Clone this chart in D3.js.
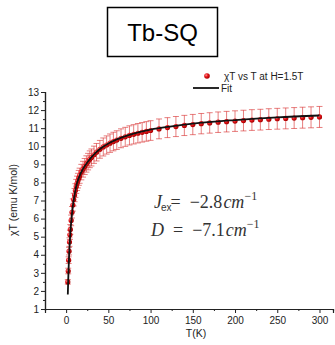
<!DOCTYPE html>
<html><head><meta charset="utf-8">
<script src="https://cdn.jsdelivr.net/npm/d3@7"></script>
<style>body{margin:0;background:#fff}svg{display:block}</style>
</head><body>
<script>
const temps = [2,2.5,3,3.5,4,4.5,5,6,7,8,9,10,11,12,13,14,15,16,18,20,22,24,26,28,30,33,36,40,44,48,52,56,60,65,70,75,80,85,90,95,100,110,120,130,140,150,160,170,180,190,200,210,220,230,240,250,260,270,280,290,300];
const chiT = [2.5,3.1,3.7,4.2,4.7,5.1,5.4,5.9,6.35,6.75,7.05,7.3,7.55,7.78,7.95,8.1,8.25,8.37,8.57,8.73,8.88,9.02,9.15,9.28,9.38,9.53,9.67,9.83,9.96,10.07,10.17,10.26,10.34,10.44,10.52,10.6,10.66,10.72,10.77,10.82,10.87,10.96,11.03,11.09,11.15,11.2,11.25,11.29,11.33,11.36,11.39,11.42,11.45,11.47,11.5,11.52,11.54,11.56,11.58,11.6,11.62];
const fitT = [2,2.5,3,3.5,4,5,6,7,8,10,12,15,20,25,30,40,50,60,80,100,125,150,200,250,300];
const fitChiT = [1.8,2.6,3.3,3.9,4.4,5.2,5.8,6.3,6.7,7.3,7.8,8.25,8.75,9.1,9.4,9.85,10.15,10.38,10.7,10.92,11.1,11.25,11.45,11.6,11.7];
const xTicks = [0,50,100,150,200,250,300];
const yTicks = [1,2,3,4,5,6,7,8,9,10,11,12,13];

const W=335,H=345;
const svg=d3.select("body").append("svg").attr("width",W).attr("height",H);
const defs=svg.append("defs");
const grad=defs.append("radialGradient").attr("id","dotg").attr("cx","35%").attr("cy","35%").attr("r","65%");
grad.append("stop").attr("offset","0%").attr("stop-color","#ff9a9a");
grad.append("stop").attr("offset","45%").attr("stop-color","#e8141a");
grad.append("stop").attr("offset","100%").attr("stop-color","#a80000");

const x=d3.scaleLinear().domain([-25,316]).range([45,333]);
const y=d3.scaleLinear().domain([1,13]).range([309,92]);

// title box
svg.append("rect").attr("x",107.5).attr("y",7.5).attr("width",110).attr("height",49).attr("fill","none").attr("stroke","#000").attr("stroke-width",1.5);
svg.append("text").attr("x",162.5).attr("y",41).attr("text-anchor","middle").attr("font-family","Liberation Sans, Arial, sans-serif").attr("font-size",24).text("Tb-SQ");

// axes
const fam="Liberation Sans, Arial, sans-serif";
svg.append("g").attr("transform","translate(0,309)")
  .call(d3.axisBottom(x).tickValues(xTicks).tickSize(4).tickPadding(4).tickFormat(d3.format("d")));
svg.append("g").attr("transform","translate(0,309)")
  .call(d3.axisBottom(x).tickValues([-25,25,75,125,175,225,275]).tickSize(2).tickFormat(""));
svg.append("g").attr("transform","translate(45,0)")
  .call(d3.axisLeft(y).tickValues(yTicks).tickSize(4).tickPadding(2).tickFormat(d3.format("d")));
svg.append("g").attr("transform","translate(45,0)")
  .call(d3.axisLeft(y).tickValues(d3.range(1.5,13,1)).tickSize(2).tickFormat(""));
svg.selectAll(".domain").attr("stroke","#222").attr("stroke-width",1.2);
svg.selectAll(".tick line").attr("stroke","#222");
svg.selectAll(".tick text").attr("font-family",fam).attr("font-size",10).attr("fill","#222");

// axis labels
svg.append("text").attr("transform","translate(17,200) rotate(-90)").attr("text-anchor","middle")
  .attr("font-family",fam).attr("font-size",10.5).attr("fill","#222").text("χT (emu K/mol)");
svg.append("text").attr("x",196).attr("y",337).attr("text-anchor","middle")
  .attr("font-family",fam).attr("font-size",10.5).attr("fill","#222").text("T(K)");

// data
const data=temps.map((t,i)=>({t,v:chiT[i],e:chiT[i]*0.05}));
const eb=svg.append("g").attr("stroke","rgba(215,40,40,0.6)").attr("stroke-width",1);
data.forEach(d=>{
  eb.append("line").attr("x1",x(d.t)).attr("x2",x(d.t)).attr("y1",y(d.v-d.e)).attr("y2",y(d.v+d.e));
  eb.append("line").attr("x1",x(d.t)-3).attr("x2",x(d.t)+3).attr("y1",y(d.v-d.e)).attr("y2",y(d.v-d.e));
  eb.append("line").attr("x1",x(d.t)-3).attr("x2",x(d.t)+3).attr("y1",y(d.v+d.e)).attr("y2",y(d.v+d.e));
});
svg.append("g").selectAll("circle").data(data).join("circle")
  .attr("cx",d=>x(d.t)).attr("cy",d=>y(d.v)).attr("r",2.6).attr("fill","url(#dotg)");

// fit
const fit=fitT.map((t,i)=>[t,fitChiT[i]]);
svg.append("path").datum(fit).attr("fill","none").attr("stroke","#111").attr("stroke-width",1.8)
  .attr("d",d3.line().x(d=>x(d[0])).y(d=>y(d[1])).curve(d3.curveMonotoneX));

// legend
svg.append("circle").attr("cx",207).attr("cy",76).attr("r",2.8).attr("fill","url(#dotg)");
svg.append("text").attr("x",224).attr("y",80).attr("font-family",fam).attr("font-size",10).attr("fill","#222").text("χT vs T at H=1.5T");
svg.append("line").attr("x1",193).attr("x2",219).attr("y1",88).attr("y2",88).attr("stroke","#111").attr("stroke-width",1.8);
svg.append("text").attr("x",221).attr("y",92).attr("font-family",fam).attr("font-size",10).attr("fill","#222").text("Fit");

// annotations
const serif="Liberation Serif, Times New Roman, serif";
const t1=svg.append("text").attr("x",154).attr("y",208).attr("font-family",serif).attr("font-size",18).attr("fill","#333");
t1.append("tspan").attr("font-style","italic").text("J");
t1.append("tspan").attr("font-family",fam).attr("font-size",10).attr("dy",3).attr("dx",-1).text("ex");
t1.append("tspan").attr("dy",-3).attr("dx",-1).text("=\u00A0\u00A0−2.8");
t1.append("tspan").attr("font-style","italic").attr("dx",1).text("cm");
t1.append("tspan").attr("font-size",12).attr("dy",-8).text("−1");
const t2=svg.append("text").attr("x",151).attr("y",236).attr("font-family",serif).attr("font-size",18).attr("fill","#333");
t2.append("tspan").attr("font-style","italic").text("D");
t2.append("tspan").text("\u00A0\u00A0=\u00A0\u00A0−7.1");
t2.append("tspan").attr("font-style","italic").attr("dx",1).text("cm");
t2.append("tspan").attr("font-size",12).attr("dy",-8).text("−1");
</script>
</body></html>
